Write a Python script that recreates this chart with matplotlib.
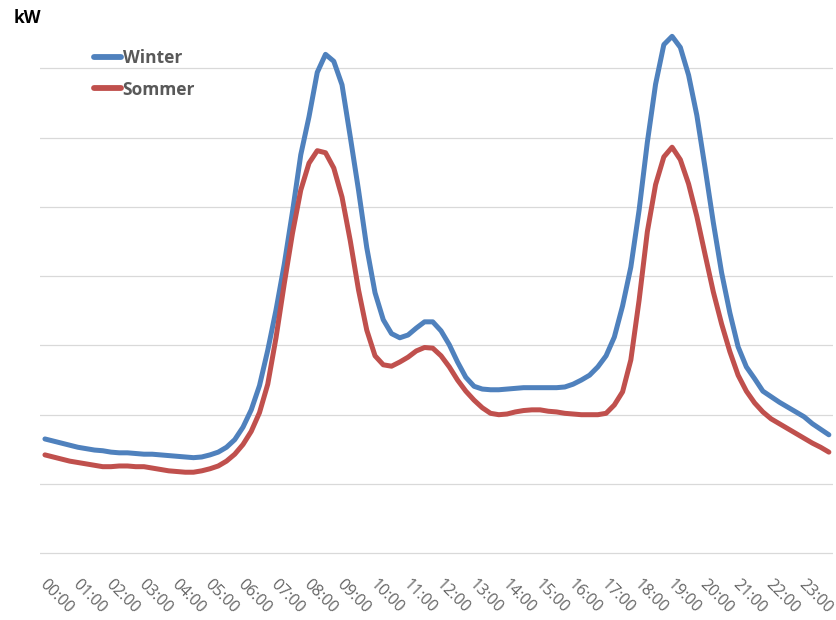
import numpy as np
import matplotlib
matplotlib.use("Agg")
import matplotlib.pyplot as plt
from matplotlib.transforms import ScaledTranslation

# Load profile in 15-minute steps (kW)
winter = [
    1.65, 1.62, 1.59, 1.56, 1.53, 1.51, 1.49, 1.48,
    1.46, 1.45, 1.45, 1.44, 1.43, 1.43, 1.42, 1.41,
    1.40, 1.39, 1.38, 1.39, 1.42, 1.46, 1.53, 1.64,
    1.82, 2.07, 2.42, 2.93, 3.51, 4.17, 4.93, 5.75,
    6.30, 6.94, 7.20, 7.10, 6.76, 6.01, 5.24, 4.41,
    3.76, 3.37, 3.17, 3.11, 3.15, 3.25, 3.34, 3.34,
    3.21, 3.01, 2.76, 2.54, 2.41, 2.37, 2.36, 2.36,
    2.37, 2.38, 2.39, 2.39, 2.39, 2.39, 2.39, 2.40,
    2.44, 2.50, 2.57, 2.69, 2.85, 3.12, 3.57, 4.13,
    4.95, 5.93, 6.77, 7.34, 7.46, 7.30, 6.90, 6.32,
    5.56, 4.77, 4.05, 3.47, 2.98, 2.69, 2.52, 2.34,
    2.26, 2.18, 2.11, 2.04, 1.97, 1.87, 1.79, 1.71,
]
sommer = [
    1.42, 1.39, 1.36, 1.33, 1.31, 1.29, 1.27, 1.25,
    1.25, 1.26, 1.26, 1.25, 1.25, 1.23, 1.21, 1.19,
    1.18, 1.17, 1.17, 1.19, 1.22, 1.26, 1.33, 1.43,
    1.57, 1.76, 2.03, 2.44, 3.11, 3.89, 4.62, 5.24,
    5.63, 5.81, 5.78, 5.56, 5.14, 4.51, 3.80, 3.22,
    2.85, 2.72, 2.70, 2.76, 2.83, 2.92, 2.97, 2.96,
    2.85, 2.69, 2.50, 2.34, 2.21, 2.10, 2.02, 2.00,
    2.01, 2.04, 2.06, 2.07, 2.07, 2.05, 2.04, 2.02,
    2.01, 2.00, 2.00, 2.00, 2.02, 2.14, 2.33, 2.79,
    3.65, 4.64, 5.32, 5.72, 5.86, 5.68, 5.33, 4.86,
    4.31, 3.77, 3.31, 2.91, 2.57, 2.34, 2.17, 2.04,
    1.94, 1.87, 1.80, 1.73, 1.66, 1.59, 1.53, 1.46,
]
hour_labels = [f"{h:02d}:00" for h in range(24)]
series_names = ["Winter", "Sommer"]

W, H = 836, 620
PX = 69.3            # pixels per kW unit
Y0 = 553.3           # pixel row of zero
fig = plt.figure(figsize=(W / 100, H / 100), dpi=100)
ax = fig.add_axes([40 / W, (H - Y0 - 2) / H, (833 - 40) / W, (Y0 + 2) / H])

x = np.arange(len(winter))
ax.plot(x, winter, color="#4F81BD", lw=3.6, solid_capstyle="round",
        solid_joinstyle="round", label=series_names[0], zorder=3)
ax.plot(x, sommer, color="#C0504D", lw=3.6, solid_capstyle="round",
        solid_joinstyle="round", label=series_names[1], zorder=3)

ax.set_xlim(-0.6, 95.5)
ax.set_ylim(-2 / PX, Y0 / PX)
ax.set_yticks(np.arange(0, 8))
ax.set_yticklabels([])
ax.tick_params(axis="y", length=0)
ax.grid(axis="y", color="#D9D9D9", lw=0.9)
ax.set_axisbelow(True)
for s in ax.spines.values():
    s.set_visible(False)

ax.set_xticks(x[::4])
ax.set_xticklabels(hour_labels, rotation=-45, ha="left", va="center",
                   rotation_mode="anchor", fontsize=11.5, color="#646464",
                   family="Open Sans")
ax.tick_params(axis="x", length=0, pad=19)
shift = ScaledTranslation(-3 / 100, 0 / 100, fig.dpi_scale_trans)
for lab in ax.get_xticklabels():
    lab.set_transform(lab.get_transform() + shift)

fig.text(14 / W, 1 - 18 / H, "kW", fontsize=12.5, fontweight="bold",
         family="Open Sans", color="#000000", va="center", ha="left")

leg = ax.legend(loc="upper left", bbox_to_anchor=(94 / W, 1 - 49 / H),
                bbox_transform=fig.transFigure, frameon=False,
                handlelength=1.55, handletextpad=0.1, labelspacing=0.78,
                borderaxespad=0, borderpad=0,
                prop={"family": "Open Sans", "weight": "bold", "size": 12.5})
for t in leg.get_texts():
    t.set_color("#595959")
for h in leg.get_lines():
    h.set_linewidth(4.2)

fig.savefig("out.png", dpi=100)
